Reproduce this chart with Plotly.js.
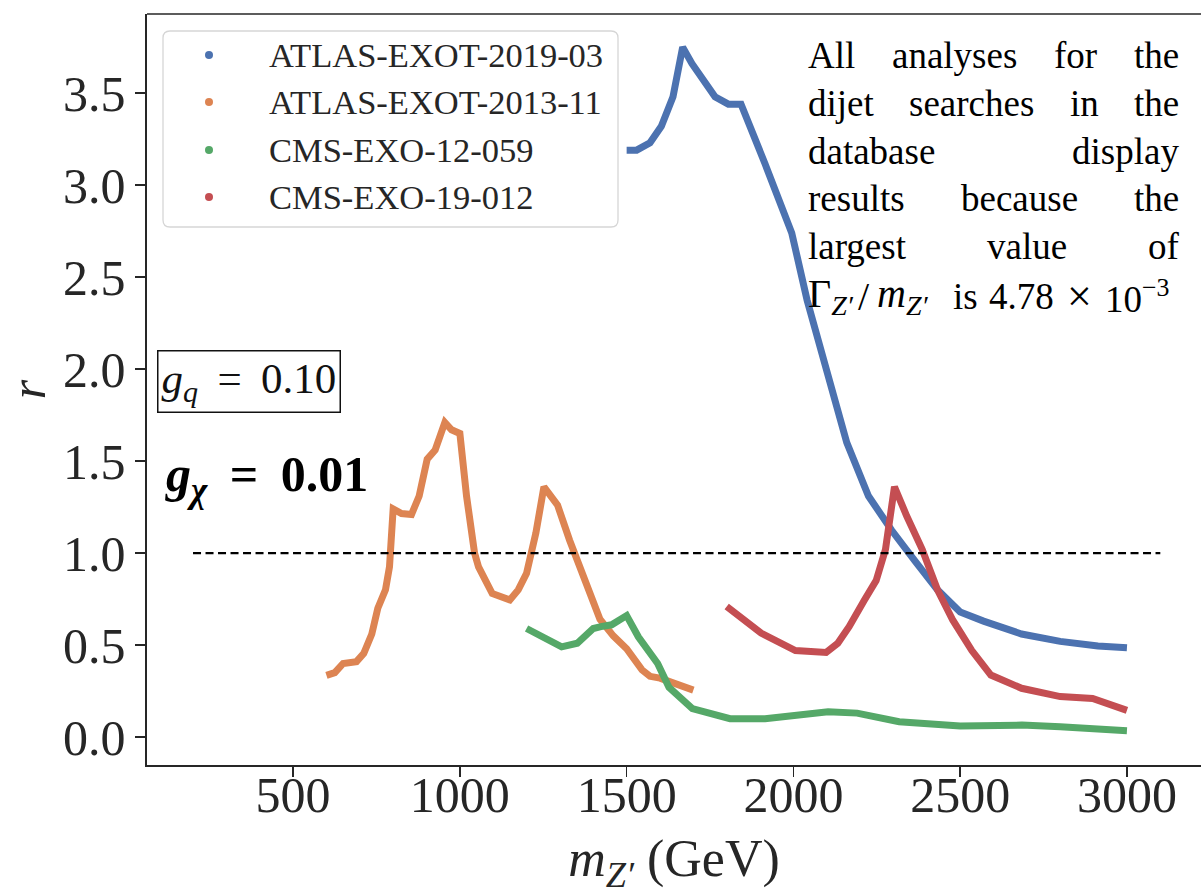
<!DOCTYPE html>
<html>
<head>
<meta charset="utf-8">
<script src="https://cdn.plot.ly/plotly-3.0.1.min.js"></script>
<style>
  html, body { margin: 0; padding: 0; background: #fff; overflow: hidden; }
  #chart { width: 1201px; height: 895px; }
</style>
</head>
<body>
<div id="chart"></div>
<script>
// Ratio r = sigma / sigma_limit versus Z' mass for the dijet analyses
const seriesNames = ['ATLAS-EXOT-2019-03', 'ATLAS-EXOT-2013-11', 'CMS-EXO-12-059', 'CMS-EXO-19-012'];

const massAtlas2019 = [1500, 1530, 1570, 1604, 1639, 1668, 1696, 1765, 1805, 1843, 1914, 1995, 2041, 2098, 2160, 2225, 2294, 2363, 2432, 2500, 2570, 2684, 2800, 2913, 3000];
const rAtlas2019    = [3.19, 3.19, 3.23, 3.32, 3.48, 3.75, 3.66, 3.48, 3.44, 3.44, 3.12, 2.74, 2.375, 2.01, 1.60, 1.31, 1.125, 0.96, 0.80, 0.68, 0.63, 0.56, 0.52, 0.495, 0.485];

const massAtlas2013 = [600, 625, 650, 690, 712, 736, 754, 777, 789, 800, 825, 855, 878, 902, 926, 955, 975, 1000, 1020, 1044, 1056, 1097, 1150, 1175, 1200, 1228, 1252, 1293, 1329, 1376, 1420, 1460, 1500, 1546, 1570, 1600, 1700];
const rAtlas2013    = [0.335, 0.35, 0.40, 0.41, 0.455, 0.56, 0.70, 0.80, 0.925, 1.24, 1.215, 1.21, 1.31, 1.51, 1.56, 1.71, 1.67, 1.65, 1.31, 1.0, 0.925, 0.78, 0.745, 0.80, 0.89, 1.11, 1.36, 1.26, 1.07, 0.835, 0.64, 0.55, 0.48, 0.365, 0.33, 0.32, 0.255];

const massCms12 = [1200, 1250, 1305, 1352, 1400, 1423, 1455, 1500, 1535, 1593, 1627, 1697, 1810, 1915, 2017, 2104, 2191, 2317, 2500, 2685, 2800, 3000];
const rCms12    = [0.59, 0.54, 0.49, 0.51, 0.59, 0.60, 0.61, 0.66, 0.545, 0.40, 0.27, 0.155, 0.10, 0.10, 0.115, 0.137, 0.13, 0.083, 0.06, 0.065, 0.056, 0.034];

const massCms19 = [1800, 1903, 2006, 2098, 2133, 2167, 2213, 2248, 2276, 2303, 2340, 2386, 2432, 2478, 2535, 2592, 2684, 2800, 2897, 3000];
const rCms19    = [0.71, 0.565, 0.47, 0.46, 0.51, 0.60, 0.745, 0.85, 1.02, 1.36, 1.20, 1.02, 0.80, 0.635, 0.47, 0.337, 0.265, 0.22, 0.21, 0.145];

// Exclusion threshold r = 1
const thresholdMass = [200, 3100];
const thresholdR = [1, 1];

const xTicks = [500, 1000, 1500, 2000, 2500, 3000];
const yTicks = [0.0, 0.5, 1.0, 1.5, 2.0, 2.5, 3.0, 3.5];

const noteLines = [
  ['All', 'analyses', 'for', 'the'],
  ['dijet', 'searches', 'in', 'the'],
  ['database', 'display'],
  ['results', 'because', 'the'],
  ['largest', 'value', 'of']
];
// last line of the note, split into pieces: [text, left edge px, size]
const noteLastPieces = [
  ['Γ<sub><i>Z′</i></sub>', 806, 40],
  ['/', 856, 40],
  ['<i>m</i><sub><i>Z′</i></sub>', 875, 40],
  ['is', 951, 37],
  ['4.78', 987, 37],
  ['×', 1065, 44],
  ['10<sup>−3</sup>', 1103, 37]
];

const colors = ['#4C72B0', '#DD8452', '#55A868', '#C44E52'];
const serif = '"Liberation Serif", "DejaVu Serif", serif';
const thin = '\u2009';

// page geometry
const W = 1201, H = 895;
const ML = 147, MR = 0, MT = 14, MB = 130;
const plotW = W - ML - MR, plotH = H - MT - MB;
const pxX = px => (px - ML) / plotW;
const pxY = py => (H - MB - py) / plotH;

const curves = [
  [massAtlas2019, rAtlas2019],
  [massAtlas2013, rAtlas2013],
  [massCms12, rCms12],
  [massCms19, rCms19]
];

const traces = [];
curves.forEach(([xs, ys], i) => {
  traces.push({
    x: xs, y: ys, type: 'scatter', mode: 'lines', name: seriesNames[i],
    line: { color: colors[i], width: 7 },
    showlegend: false, hoverinfo: 'skip'
  });
});
traces.push({
  x: thresholdMass, y: thresholdR, type: 'scatter', mode: 'lines',
  line: { color: '#000', width: 2.2, dash: '8px,4.5px' },
  showlegend: false, hoverinfo: 'skip'
});

const annotations = [];
const shapes = [];

// top spine
shapes.push({
  type: 'line', xref: 'paper', yref: 'paper', x0: 0, x1: 1, y0: 1, y1: 1,
  line: { color: '#262626', width: 1.6 }
});

// legend: rounded frame, coloured dots and entry names
(function drawLegend() {
  const L = 163, R = 618, T = 31, B = 227, rad = 7;
  const X = pxX, Y = pxY;
  const path = [
    'M', X(L + rad), Y(T),
    'L', X(R - rad), Y(T),
    'Q', X(R), Y(T), X(R), Y(T + rad),
    'L', X(R), Y(B - rad),
    'Q', X(R), Y(B), X(R - rad), Y(B),
    'L', X(L + rad), Y(B),
    'Q', X(L), Y(B), X(L), Y(B - rad),
    'L', X(L), Y(T + rad),
    'Q', X(L), Y(T), X(L + rad), Y(T), 'Z'
  ].map(v => typeof v === 'number' ? v.toFixed(5) : v).join(' ');
  shapes.push({
    type: 'path', xref: 'paper', yref: 'paper', path: path,
    fillcolor: '#fff', line: { color: '#d6d6d6', width: 1.3 }, layer: 'above'
  });
  const rows = [55, 102, 150, 197];
  seriesNames.forEach((name, i) => {
    shapes.push({
      type: 'circle', xref: 'paper', yref: 'paper',
      xsizemode: 'pixel', ysizemode: 'pixel',
      xanchor: X(209), yanchor: Y(rows[i]),
      x0: -4, x1: 4, y0: -4, y1: 4,
      fillcolor: colors[i], line: { width: 0 }, layer: 'above'
    });
    annotations.push({
      xref: 'paper', yref: 'paper', x: X(267), y: Y(rows[i]),
      xanchor: 'left', yanchor: 'middle', showarrow: false, text: name,
      font: { family: serif, size: 34.5, color: '#262626' }
    });
  });
})();

// justified note: measure words and spread them across the column
const ctx = document.createElement('canvas').getContext('2d');
const noteSize = 37;
ctx.font = noteSize + 'px "Liberation Serif"';
const colLeft = 808, colRight = 1179;
const lineCenters = [56, 104, 151, 199, 247, 296];
noteLines.forEach((words, li) => {
  const widths = words.map(w => ctx.measureText(w).width);
  const total = widths.reduce((a, b) => a + b, 0);
  const gap = (colRight - colLeft - total) / (words.length - 1);
  let pos = colLeft;
  words.forEach((w, wi) => {
    annotations.push({
      xref: 'paper', yref: 'paper', x: pxX(pos - 2), y: pxY(lineCenters[li]),
      xanchor: 'left', yanchor: 'middle', showarrow: false, text: w,
      font: { family: serif, size: noteSize, color: '#000' }
    });
    pos += widths[wi] + gap;
  });
});
noteLastPieces.forEach(([txt, left, size]) => {
  annotations.push({
    xref: 'paper', yref: 'paper', x: pxX(left), y: pxY(lineCenters[5]),
    xanchor: 'left', yanchor: 'middle', showarrow: false, text: txt,
    font: { family: serif, size: size, color: '#000' }
  });
});

// coupling labels
annotations.push({
  xref: 'paper', yref: 'paper', x: pxX(157), y: pxY(350),
  xanchor: 'left', yanchor: 'top', showarrow: false,
  text: '<i>g</i><sub><i>q</i></sub> ' + thin + '=' + thin + ' 0.10',
  font: { family: serif, size: 43, color: '#111' },
  bordercolor: '#111', borderwidth: 1.5, borderpad: 3, bgcolor: '#fff'
});
annotations.push({
  xref: 'paper', yref: 'paper', x: pxX(163), y: pxY(478),
  xanchor: 'left', yanchor: 'middle', showarrow: false,
  text: '<i>g</i><sub><i>χ</i></sub> ' + thin + '=' + thin + ' 0.01',
  font: { family: serif, size: 50, color: '#000', weight: 'bold' }
});

const axisCommon = {
  showline: true, linecolor: '#262626', linewidth: 1.6,
  ticks: 'outside', ticklen: 10, tickwidth: 1.5, tickcolor: '#262626',
  showgrid: false, zeroline: false,
  tickfont: { family: serif, size: 50, color: '#262626' }
};

const layout = {
  width: W, height: H,
  margin: { l: ML, r: MR, t: MT, b: MB },
  paper_bgcolor: '#fff', plot_bgcolor: '#fff',
  xaxis: Object.assign({}, axisCommon, {
    range: [62, 3222], tickmode: 'array', tickvals: xTicks,
    ticktext: xTicks.map(String), ticklabelstandoff: -25,
    title: { text: '<i>m</i><sub><i>Z′</i></sub> (GeV)', font: { family: serif, size: 52, color: '#262626' }, standoff: 28 }
  }),
  yaxis: Object.assign({}, axisCommon, {
    range: [-0.152, 3.93], tickmode: 'array', tickvals: yTicks,
    ticktext: yTicks.map(v => v.toFixed(1)),
    title: { text: '<i>r</i>', font: { family: serif, size: 50, color: '#262626' }, standoff: 18 }
  }),
  shapes: shapes,
  annotations: annotations,
  showlegend: false
};

Plotly.newPlot('chart', traces, layout, { staticPlot: true, displayModeBar: false });
</script>
</body>
</html>
